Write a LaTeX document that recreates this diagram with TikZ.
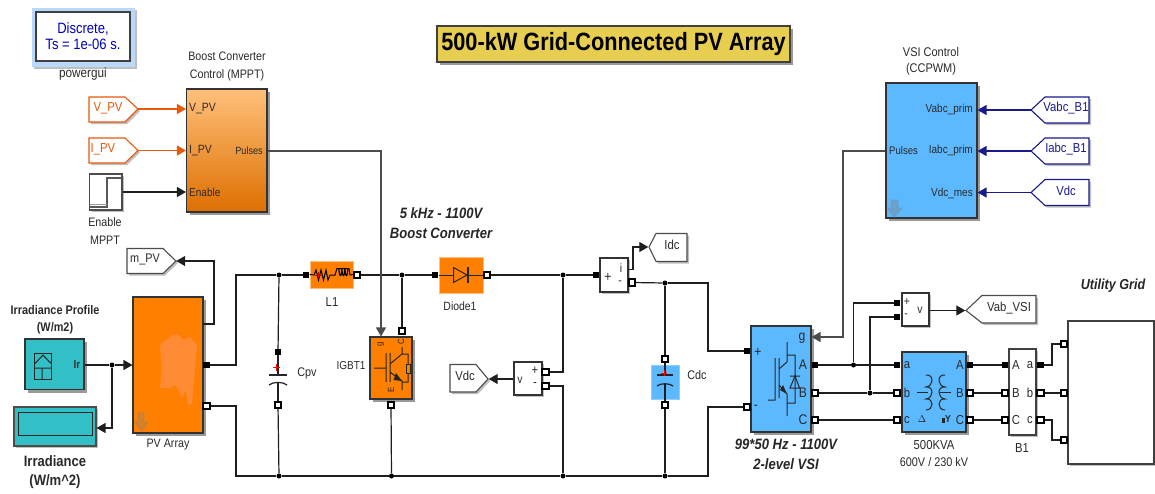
\documentclass[tikz,border=0pt]{standalone}
\usepackage{fontspec}
\usetikzlibrary{arrows.meta,shadows,shapes.geometric,calc}
\newfontfamily\lab{Liberation Sans}[FakeStretch=0.87]
\newcommand{\fsz}[1]{\lab\fontsize{#1}{#1}\selectfont}
\definecolor{orng}{HTML}{FF8000}
\definecolor{blob}{HTML}{FF8B35}
\definecolor{sky}{HTML}{5CB8FF}
\definecolor{teal1}{HTML}{33BFC6}
\definecolor{wire}{HTML}{1E1E1E}
\definecolor{navy1}{HTML}{1A1A8C}
\definecolor{redo}{HTML}{E8590C}
\definecolor{gold1}{HTML}{E8CE50}
\definecolor{txt}{HTML}{2A2A2A}
\definecolor{gui}{HTML}{BBD8F8}
\definecolor{otop}{HTML}{FFC07A}
\definecolor{obot}{HTML}{DD6F00}
\tikzset{
  x=1pt,y=-1pt,
  shd/.style={drop shadow={shadow xshift=3pt,shadow yshift=-3pt,fill=black,opacity=.4}},
  shdt/.style={drop shadow={shadow xshift=2pt,shadow yshift=-2pt,fill=black,opacity=.25}},
  blk/.style={draw=black!80,line width=1.1pt,inner sep=0pt,shd},
  lbl/.style={inner sep=0pt,text=txt,font=\fsz{12.3}},
  tiny1/.style={inner sep=0pt,text=txt,font=\fsz{11.5}},
  cap1/.style={inner sep=0pt,text=black!85,font={\fsz{15}\bfseries\itshape}},
  wr/.style={draw=wire,line width=1.2pt},
  sig/.style={wr,-{Triangle[length=9pt,width=10pt]}},
  sigg/.style={draw=black!70,line width=1.2pt,-{Triangle[length=9pt,width=10pt]}},
  sigo/.style={draw=redo,line width=1.2pt,-{Triangle[length=9pt,width=10pt]}},
  sign/.style={draw=navy1,line width=1.2pt,-{Triangle[length=9pt,width=10pt]}},
  port/.style={draw=black,fill=black,line width=.6pt,minimum size=5.5pt,inner sep=0pt,rectangle},
  portw/.style={draw=black,fill=white,line width=2.1pt,minimum size=6.2pt,inner sep=0pt,rectangle},
  jn/.style={circle,fill=black,minimum size=5pt,inner sep=0pt},
  tagk/.style={draw=black!70,line width=1.1pt,fill=white,shdt},
  tago/.style={draw=redo,line width=1.1pt,fill=white,shdt},
  tagn/.style={draw=navy1,line width=1.1pt,fill=white,shdt},
  sym/.style={draw=black!85,line width=1pt},
}
\newcommand{\bx}[7]{% name x1 y1 x2 y2 style text
  \pgfmathsetmacro{\bxw}{#4-#2}\pgfmathsetmacro{\bxh}{#5-#3}
  \pgfmathsetmacro{\bxx}{(#2+#4)/2}\pgfmathsetmacro{\bxy}{(#3+#5)/2}
  \node[minimum width=\bxw pt,minimum height=\bxh pt,#6] (#1) at (\bxx,\bxy) {#7};}
\newcommand{\prt}[4][port]{\node[#1] (#2) at (#3,#4) {};}
\newcommand{\jun}[3]{\node[jn] (#1) at (#2,#3) {};}
\begin{document}
\begin{tikzpicture}
\useasboundingbox (0,0) rectangle (1155,493);
\fill[white] (0,0) rectangle (1155,493);

% powergui
\node[fill=gui,minimum width=103pt,minimum height=59pt,inner sep=0pt,shdt] (pgo) at (83,37.5) {};
\bx{pg}{36}{12}{130}{61}{draw=black!75,line width=1.1pt,fill=white,inner sep=0pt,align=center,text=blue!75!black,font=\fsz{15}}{Discrete,\\[1pt]Ts = 1e-06 s.}
\node[lbl,font=\fsz{13.5}] (pgl) at (83,74) {powergui};

% title
\bx{title}{437}{26}{790}{62}{draw=black!75,line width=1.1pt,fill=gold1,inner sep=0pt,shd,font={\fsz{25}\bfseries},text=black}{500-kW Grid-Connected PV Array}

% boost control
\bx{boost}{186.5}{89}{267}{212}{blk,top color=otop,bottom color=obot}{}
\node[lbl] (bt1) at (227,56) {Boost Converter};
\node[lbl] (bt2) at (227,75) {Control (MPPT)};
\node[tiny1,anchor=west,font=\fsz{12}] (bv) at (189,109) {V\_PV};
\node[tiny1,anchor=west,font=\fsz{12}] (bi) at (189,151) {I\_PV};
\node[tiny1,anchor=west] (be) at (189,192) {Enable};
\node[tiny1,anchor=east,font=\fsz{10.5}] (bp) at (263,151) {Pulses};

\draw[tago] (89,97)--(125,97)--(138,109)--(125,122)--(89,122)--cycle;
\coordinate (vpv) at (138,109);
\node[inner sep=0pt,text=redo,font=\fsz{13}] (vpvl) at (108,108) {V\_PV};
\draw[tago] (89,138)--(125,138)--(138,150.5)--(125,163)--(89,163)--cycle;
\coordinate (ipv) at (138,150.5);
\node[inner sep=0pt,text=redo,font=\fsz{13}] (ipvl) at (103,149) {I\_PV};
\draw[sigo] (vpv) -- (boost.west |- vpv);
\draw[sigo] (ipv) -- (boost.west |- ipv);

\bx{step}{89.5}{174}{122}{210}{draw=black!70,line width=1.1pt,fill=white,inner sep=0pt,shdt}{}
\draw[black!65,line width=1.1pt] (90,207)--(107,207)--(107,178)--(122,178);
\draw[black!40,line width=.8pt] (90,204)--(107,204);
\node[lbl] (st1) at (105,222) {Enable};
\node[lbl] (st2) at (105,240) {MPPT};
\draw[sig] (step.east) -- (boost.west |- step.east);

% m_PV
\node[inner sep=0pt,minimum size=0pt] (mtip) at (176,261) {};
\draw[tagk] (127,248.5)--(163,248.5)--(176,261)--(163,273.5)--(127,273.5)--cycle;
\node[inner sep=0pt,text=txt,font=\fsz{12.5}] (mpvl) at (145,259.5) {m\_PV};

% PV array
\bx{pv}{133}{297}{203}{433}{blk,fill=orng}{}
\fill[blob] (160,345)--(172,335)--(178,334)--(183,340)--(190,337)--(197,345)--(195,370)--(192,404)--(188,405)--(186,390)--(182,398)--(176,385)--(170,388)--(160,388)--(162,370)--cycle;
\draw[draw=orange!40!gray,fill=orange!65!gray,line width=.8pt,opacity=.9] (138.5,413)--(144,413)--(144,422)--(148,422)--(141.5,431)--(135,422)--(138.5,422)--cycle;
\node[lbl] (pvl) at (168,445) {PV Array};
\prt{pvp}{206.5}{365}
\prt[portw]{pvn}{206.5}{406}
\coordinate (pvm) at (203,324);

% irradiance
\bx{irr}{25}{339}{84}{389.5}{blk,fill=teal1}{}
\node[lbl,font={\fsz{12.5}\bfseries}] (ip1) at (55,310) {Irradiance Profile};
\node[lbl,font={\fsz{12.5}\bfseries}] (ip2) at (55,328) {(W/m2)};
\node[inner sep=0pt,font={\fsz{11.5}\bfseries},text=black!80] (irl) at (77,365) {Ir};
\draw[black!85,line width=1pt] (34.5,353) rectangle (51.5,379);
\draw[black!85,line width=1pt] (34.5,364)--(43,355)--(51.5,364) (34.5,368)--(51.5,368) (42,368)--(42,379);
\bx{scope}{14}{407}{96}{446}{draw=black!70,line width=1.1pt,fill=teal1,inner sep=0pt,shdt}{}
\draw[black!85,line width=1pt,fill=teal1] (18,412.5) rectangle (92.5,435);
\node[lbl,font={\fsz{15}\bfseries}] (sc1) at (55,461) {Irradiance};
\node[lbl,font={\fsz{15}\bfseries}] (sc2) at (55,482) {(W/m\string^2)};
\jun{irj}{112}{365}
\draw[wr] (irr.east |- irj) -- (irj);
\draw[sig] (irj) -- (pv.west |- irj);
\draw[sig] (irj) |- (scope.east |- 0,428);
\draw[sig] (pvm) -| (214,261) -- (mtip);

% L1
\bx{l1}{310}{261}{353}{288}{fill=orng,draw=orange!50,line width=.6pt,inner sep=0pt}{}
\node[lbl,font=\fsz{13}] (l1l) at (332,302) {L1};
\prt{l1a}{306}{275}
\prt[portw]{l1b}{357}{275}
\draw[black,line width=1pt] (l1.west)--(314,275)--(316,270)--(318.5,280)--(321,270)--(323.5,280)--(326,270)--(328,280)--(330,275)--(335,275)--(337,268.5)--(349,268.5)--(350,275)--(l1.east);
\draw[black,line width=1.2pt] (339,268.5) arc[start angle=180,end angle=360,x radius=1.4,y radius=-7] (342,268.5) arc[start angle=180,end angle=360,x radius=1.4,y radius=-7] (345,268.5) arc[start angle=180,end angle=360,x radius=1.4,y radius=-7];
\draw[red!85!black,line width=.8pt] (315,275)--(322,275) (318.5,272)--(318.5,278);

% Cpv
\prt{cpa}{278}{352}
\prt[portw]{cpb}{278}{405}
\jun{jt1}{279}{275}
\jun{jb1}{279}{476}
\draw[wr] (cpa) -- (278,375);
\draw[wr] (278,383) -- (cpb);
\draw[sym,line width=1.2pt] (269,375)--(287,375);
\draw[sym,line width=1.2pt] (269,385) .. controls (273,381.5) and (283,381.5) .. (287,385);
\draw[red,line width=.8pt] (273,367)--(280,367) (276.5,363.5)--(276.5,370.5);
\node[lbl,font=\fsz{12.5}] (cpl) at (307,373) {Cpv};

% IGBT
\bx{igbt}{370}{337}{412}{399}{blk,fill=orng}{}
\node[tiny1] (il) at (351,366) {IGBT1};
\prt[portw]{ig1}{402}{331}
\prt[portw]{ig2}{391}{405}
\draw[sym] (374,368)--(386,368) (386,353)--(386,382) (390,353)--(390,382)
  (390,364)--(402,354)--(402,347) (402,354)--(408,354)--(408,382)--(402,382)
  (390,372)--(402,381)--(402,390);
\fill[black!85] (402,381)--(396,373)--(393.5,380)--cycle;
\draw[sym,fill=orng,line width=.7pt] (406,364) rectangle (410,373);
\node[inner sep=0pt,rotate=90,font=\fsz{9},text=black!85] (igg) at (381,344) {g};
\node[inner sep=0pt,rotate=90,font=\fsz{9},text=black!85] (igc) at (401,342) {C};
\node[inner sep=0pt,rotate=90,font=\fsz{9},text=black!85] (ige) at (391,390) {E};
\jun{jt2}{402}{275}
\jun{jb2}{391.5}{476}

% Diode
\bx{diode}{439}{257}{483}{293}{fill=orng,draw=orange!50,line width=.6pt,inner sep=0pt}{}
\node[lbl,font=\fsz{12}] (dl) at (460,306) {Diode1};
\prt{da}{435}{275}
\prt[portw]{db}{487}{275}
\draw[sym] (diode.west)--(diode.east);
\draw[sym,fill=orng] (453.5,267.5)--(453.5,282.5)--(467,275)--cycle;
\draw[sym,line width=1.3pt] (468,267)--(468,283);
\jun{jt3}{563}{275}
\jun{jb3}{563}{476}

% v meter dc
\bx{vm}{514}{362}{542}{395}{draw=black!80,fill=white,line width=1.1pt,inner sep=0pt,shdt}{}
\node[inner sep=0pt,font=\fsz{12},text=txt] (vmv) at (520,380) {v};
\node[inner sep=0pt,font=\fsz{13},text=txt] (vmp) at (535,371) {+};
\node[inner sep=0pt,font=\fsz{13},text=txt] (vmm) at (535,385) {-};
\prt[portw]{vma}{545.5}{372}
\prt[portw]{vmb}{545.5}{386}
\node[inner sep=0pt] (vdct) at (488,379) {};
\draw[tagk] (450,364.5)--(476,364.5)--(488,379)--(476,392)--(450,392)--cycle;
\node[inner sep=0pt,font=\fsz{13},text=txt] (vdcl) at (465,376) {Vdc};
\draw[sig] (vm.west |- vdct) -- (vdct);

% current meter
\bx{im}{600}{258}{628}{292}{draw=black!80,fill=white,line width=1.1pt,inner sep=0pt,shdt}{}
\node[inner sep=0pt,font=\fsz{14},text=txt] (imp) at (608,277) {+};
\node[inner sep=0pt,font=\fsz{12},text=txt] (imi) at (621,268) {i};
\node[inner sep=0pt,font=\fsz{12},text=txt] (imm) at (620,283) {-};
\prt{ima}{596}{275}
\prt[portw]{imb}{632}{282.5}
\node[inner sep=0pt] (idct) at (649,247) {};
\draw[tagk] (649,247)--(656,233.5)--(687,233.5)--(687,261.5)--(656,261.5)--cycle;
\node[inner sep=0pt,font=\fsz{13},text=txt] (idcl) at (672,245) {Idc};
\draw[sig] (628,269.5) -- (633,269.5) |- (idct);

% Cdc
\bx{cdc}{651}{365}{679}{399}{fill=sky,draw=sky!70,line width=.6pt,inner sep=0pt}{}
\prt[portw]{cda}{665}{359}
\prt[portw]{cdb}{665}{405}
\draw[wr] (cda) -- (665,375);
\draw[wr] (665,384) -- (cdb);
\draw[sym,line width=1.2pt] (657,375)--(673,375);
\draw[sym,line width=1.2pt] (657,386) .. controls (660,383) and (670,383) .. (673,386);
\draw[red,line width=.8pt] (661,373)--(667,373) (664,370)--(664,376);
\node[lbl,font=\fsz{12.5}] (cdl) at (697,375) {Cdc};
\jun{jt4}{665}{283}
\jun{jb4}{665}{476}

% VSI
\bx{vsi}{751}{326}{811}{432}{blk,fill=sky}{}
\node[inner sep=0pt,font=\fsz{14},text=txt] (vp) at (758,352) {+};
\node[inner sep=0pt,font=\fsz{14},text=txt] (vn) at (756,407) {-};
\node[inner sep=0pt,font=\fsz{14},text=txt] (vg) at (802,338) {g};
\node[inner sep=0pt,font=\fsz{14},text=txt] (va) at (803,365) {A};
\node[inner sep=0pt,font=\fsz{14},text=txt] (vb) at (803,393) {B};
\node[inner sep=0pt,font=\fsz{14},text=txt] (vc) at (803,420) {C};
\draw[sym] (768,400)--(775,400)--(775,358) (779,358)--(779,398)
 (787,342)--(787,362)--(779,369) (787,355)--(795,355)--(795,403)--(787,403)
 (779,385)--(787,394)--(787,416) (790,376)--(800,376);
\draw[sym] (790,388)--(799.5,388)--(795,376)--cycle;
\fill[black!85] (787,394)--(780,390)--(783,385)--cycle;
\prt{vsa}{747}{351}
\prt[portw]{vsb}{747}{407}
\prt{voa}{815}{365}
\prt[portw]{vob}{815}{393}
\prt[portw]{voc}{815}{420}
\node[cap1] (c3) at (786,444) {99*50 Hz - 1100V};
\node[cap1] (c4) at (786,464) {2-level VSI};
\node[cap1] (c1) at (441,213) {5 kHz - 1100V};
\node[cap1] (c2) at (441,233) {Boost Converter};

% DC wiring
\draw[wr] (pvp) -- (236,365) |- (jt1);
\draw[wr] (jt1) -- (l1a);
\draw[wr] (jt1) -- (cpa);
\draw[wr] (l1b) -- (jt2);
\draw[wr] (jt2) -- (da);
\draw[wr] (jt2) -- (ig1);
\draw[wr] (db) -- (jt3);
\draw[wr] (jt3) -- (ima);
\draw[wr] (jt3) |- (vma);
\draw[wr] (vmb) -| (jb3);
\draw[wr] (imb) -- (jt4);
\draw[wr] (jt4) -- (cda);
\draw[wr] (jt4) -- (708,283) |- (vsa);
\draw[wr] (pvn) -- (236,406) |- (jb1);
\draw[wr] (jb1) -- (cpb);
\draw[wr] (jb1) -- (jb2) -- (jb3) -- (jb4) -- (708,476) |- (vsb);
\draw[wr] (jb2) -- (ig2);
\draw[wr] (jb4) -- (cdb);
\draw[sigg] (boost.east |- 0,151) -| (igbt.north -| 381,0);

% VSI control
\bx{ctl}{886}{83}{977}{218}{blk,fill=sky}{}
\node[lbl,font=\fsz{12.6}] (ct1) at (931,52) {VSI Control};
\node[lbl,font=\fsz{12.6}] (ct2) at (931,69) {(CCPWM)};
\node[tiny1,anchor=east] (c1v) at (973,110) {Vabc\_prim};
\node[tiny1,anchor=east] (c1i) at (973,151) {Iabc\_prim};
\node[tiny1,anchor=east] (c1d) at (973,193) {Vdc\_mes};
\node[tiny1,anchor=west,font=\fsz{11}] (c1p) at (889,151) {Pulses};
\draw[draw=sky!50!gray,fill=sky!60!gray,line width=.8pt] (891,200)--(898,200)--(898,208)--(902,208)--(894.5,217)--(887,208)--(891,208)--cycle;
\foreach \nm/\yy/\tt in {vb1/110/Vabc\_B1,ib1/151/Iabc\_B1,vd1/192.5/Vdc}{
  \draw[tagn] (1031,\yy)--(1045,\yy-13)--(1089,\yy-13)--(1089,\yy+13)--(1045,\yy+13)--cycle;
  \coordinate (\nm) at (1031,\yy);
  \node[inner sep=0pt,font=\fsz{13},text=navy1] (\nm l) at (1066,\yy-1.5) {\tt};
  \draw[sign] (\nm) -- (ctl.east |- \nm);
}
\draw[sigg] (ctl.west |- 0,151) -| (843,337) -- (vsi.east |- 0,337);

% AC v meter
\bx{vac}{902}{293}{929}{326}{draw=black!80,fill=white,line width=1.1pt,inner sep=0pt,shdt}{}
\node[inner sep=0pt,font=\fsz{12},text=txt] (vac1) at (907,302) {+};
\node[inner sep=0pt,font=\fsz{12},text=txt] (vac2) at (906,316) {-};
\node[inner sep=0pt,font=\fsz{12},text=txt] (vac3) at (920,310) {v};
\prt{vaa}{897}{303}
\prt{vab}{897}{317}
\node[inner sep=0pt] (vabt) at (966,310.5) {};
\draw[tagk] (966,310.5)--(982,295.5)--(1036,295.5)--(1036,323)--(982,323)--cycle;
\node[inner sep=0pt,font=\fsz{13},text=txt] (vabl) at (1009,308) {Vab\_VSI};
\draw[sig] (vac.east |- vabt) -- (vabt);

% Transformer
\bx{tr}{902}{352}{966}{432}{blk,fill=sky}{}
\foreach \ll/\yy in {a/365,b/393,c/420}{\node[inner sep=0pt,font=\fsz{13},text=txt] (tl\ll) at (907,\yy) {\ll};}
\foreach \ll/\yy in {A/365,B/393,C/420}{\node[inner sep=0pt,font=\fsz{13},text=txt] (tr\ll) at (960,\yy) {\ll};}
\draw[sym] (917,392)--(928,392) (940,392)--(951,392);
\draw[sym] (926,375) .. controls (934,374) and (934,386) .. (926,387)
           .. controls (934,386) and (934,398) .. (926,399)
           .. controls (934,398) and (934,410) .. (926,410);
\draw[sym] (945,375) .. controls (937,374) and (937,386) .. (945,387)
           .. controls (937,386) and (937,398) .. (945,399)
           .. controls (937,398) and (937,410) .. (945,410);
\node[inner sep=0pt,font={\fsz{10}\bfseries},text=black!85] (del) at (922,419) {$\Delta$};
\node[inner sep=0pt,font={\fsz{10}\bfseries},text=black!85] (wye) at (948,419) {Y};
\fill[black!85] (942,418) rectangle (945,423);
\node[tiny1,font=\fsz{13}] (t1) at (934,445) {500KVA};
\node[tiny1,font=\fsz{12.5}] (t2) at (934,462) {600V / 230 kV};
\prt{tia}{897}{365}
\prt[portw]{tib}{897}{393}
\prt[portw]{tic}{897}{420}
\prt{toa}{970}{365}
\prt[portw]{tob}{970}{393}
\prt[portw]{toc}{970}{420}

% B1
\bx{b1}{1009}{349}{1036}{435}{draw=black!75,fill=white,line width=1.1pt,inner sep=0pt,shdt}{}
\foreach \ll/\lo/\yy in {A/a/365,B/b/393,C/c/420}{
 \node[inner sep=0pt,font=\fsz{13},text=txt] (bl\ll) at (1016,\yy) {\ll};
 \node[inner sep=0pt,font=\fsz{13},text=txt] (br\lo) at (1030,\yy) {\lo};}
\node[tiny1,font=\fsz{13}] (b1l) at (1022,448) {B1};
\prt{bia}{1005}{365}
\prt[portw]{bib}{1005}{393}
\prt[portw]{bic}{1005}{420}
\prt{boa}{1040.5}{365}
\prt[portw]{bob}{1040.5}{393}
\prt[portw]{boc}{1040.5}{420}

% Grid
\bx{grid}{1068}{321}{1154}{464}{draw=black!75,fill=white,line width=1.1pt,inner sep=0pt,shdt}{}
\node[cap1,font={\fsz{14.5}\bfseries\itshape}] (gl) at (1113,286) {Utility Grid};
\prt[portw]{gra}{1064}{344}
\prt[portw]{grb}{1064}{393}
\prt[portw]{grc}{1064}{440}

% AC wiring
\jun{ja}{853.5}{365}
\jun{jbb}{870}{393}
\draw[wr] (voa) -- (ja) -- (tia);
\draw[wr] (vob) -- (jbb) -- (tib);
\draw[wr] (voc) -- (tic);
\draw[wr] (ja) |- (vaa);
\draw[wr] (jbb) |- (vab);
\draw[wr] (toa) -- (bia);
\draw[wr] (tob) -- (bib);
\draw[wr] (toc) -- (bic);
\draw[wr] (boa) -- (1052,365) |- (gra);
\draw[wr] (bob) -- (grb);
\draw[wr] (boc) -- (1052,420) |- (grc);
\end{tikzpicture}
\end{document}
